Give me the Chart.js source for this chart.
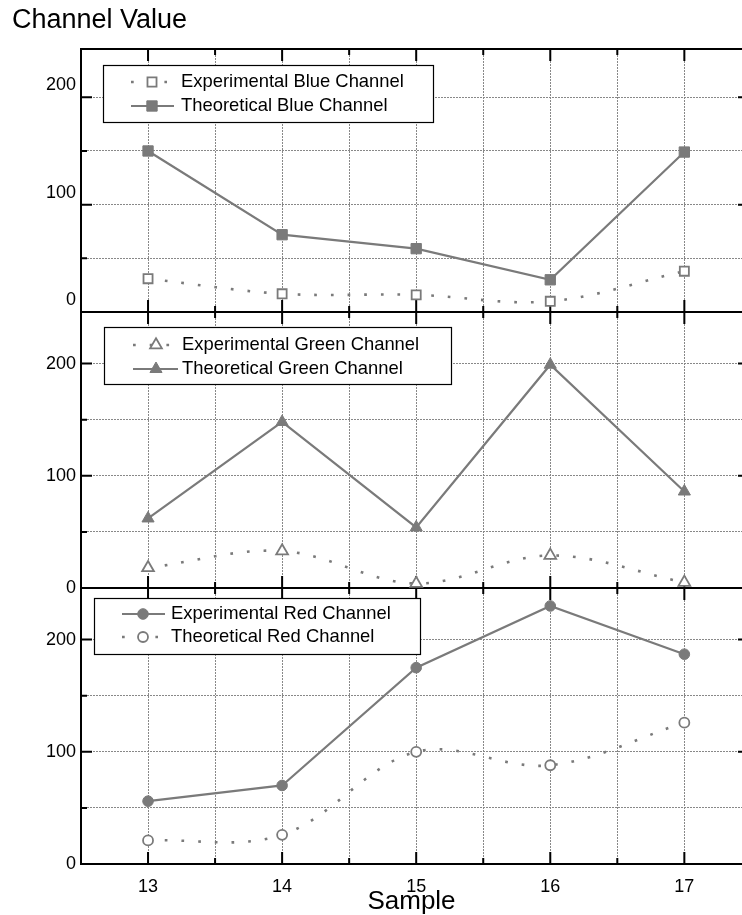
<!DOCTYPE html>
<html>
<head>
<meta charset="utf-8">
<script src="https://cdn.jsdelivr.net/npm/chart.js@4.4.1/dist/chart.umd.min.js"></script>
<style>
  html, body { margin: 0; padding: 0; background: #fff; overflow: hidden; }
  #wrap { position: relative; width: 742px; height: 915px; }
  #wrap canvas { position: absolute; left: 0; top: 0; }
</style>
</head>
<body>
<div id="wrap">
  <canvas id="red" width="742" height="915"></canvas>
  <canvas id="green" width="742" height="915"></canvas>
  <canvas id="blue" width="742" height="915"></canvas>
</div>
<script>
// sample numbers on the x axis
const samples = [13, 14, 15, 16, 17];

// channel values
const blueExperimental = [31, 17, 16, 10, 38];
const blueTheoretical = [150, 72, 59, 30, 149];
const greenExperimental = [18, 33, 4, 29, 5];
const greenTheoretical = [62, 148, 54, 199, 86];
const redExperimental = [56, 70, 175, 230, 187];
const redTheoretical = [21, 26, 100, 88, 126];

// grid / tick positions
const xGridTicks = [12.5, 13, 13.5, 14, 14.5, 15, 15.5, 16, 16.5, 17];
const yGridTicks = [0, 50, 100, 150, 200];

const GRAY = '#7a7a7a';
const GRID = '#888';
const FONT = "'Liberation Sans', Arial, sans-serif";
Chart.defaults.font.family = FONT;

function pts(vals) {
  return samples.map((s, i) => ({ x: s, y: vals[i] }));
}

function solidSet(label, vals, style, r) {
  return {
    label, data: pts(vals), borderColor: GRAY, borderWidth: 2.2, tension: 0,
    pointStyle: style, pointRadius: r, pointHoverRadius: r,
    pointBackgroundColor: GRAY, pointBorderColor: GRAY, pointBorderWidth: 1, clip: false
  };
}

function dottedSet(label, vals, style, r) {
  return {
    label, data: pts(vals), borderColor: GRAY, borderWidth: 2.6, borderDash: [2.7, 14], tension: 0.35,
    pointStyle: style, pointRadius: r, pointHoverRadius: r,
    pointBackgroundColor: '#fff', pointBorderColor: GRAY, pointBorderWidth: 1.8, clip: false
  };
}

// black frame + inward tick marks
const framePlugin = {
  id: 'frame',
  beforeDatasetsDraw(chart) {
    const { ctx, chartArea: a, scales: { x, y } } = chart;
    ctx.save();
    ctx.strokeStyle = '#000';
    ctx.lineWidth = 2;
    ctx.beginPath();
    ctx.moveTo(a.right, a.top); ctx.lineTo(a.left, a.top);
    ctx.lineTo(a.left, a.bottom); ctx.lineTo(a.right, a.bottom);
    ctx.stroke();
    ctx.beginPath();
    x.ticks.forEach(t => {
      const px = x.getPixelForValue(t.value);
      const len = Number.isInteger(t.value) ? 12 : 6;
      ctx.moveTo(px, a.top); ctx.lineTo(px, a.top + len);
      ctx.moveTo(px, a.bottom); ctx.lineTo(px, a.bottom - len);
    });
    y.ticks.forEach(t => {
      const py = y.getPixelForValue(t.value);
      const len = t.value % 100 === 0 ? 11 : 6;
      ctx.moveTo(a.left, py); ctx.lineTo(a.left + len, py);
      ctx.moveTo(a.right + 7, py); ctx.lineTo(a.right + 7 - len, py);
    });
    ctx.stroke();
    ctx.restore();
  }
};

function drawMarker(ctx, ds, x, y) {
  ctx.save();
  ctx.setLineDash([]);
  ctx.fillStyle = ds.pointBackgroundColor;
  ctx.strokeStyle = ds.pointBorderColor;
  ctx.lineWidth = ds.pointBorderWidth;
  Chart.helpers.drawPoint(ctx, {
    pointStyle: ds.pointStyle, radius: ds.pointRadius, rotation: 0, borderWidth: ds.pointBorderWidth
  }, x, y);
  ctx.restore();
}

// boxed legend inside the plot
const boxLegendPlugin = {
  id: 'boxLegend',
  afterDatasetsDraw(chart, args, o) {
    const ctx = chart.ctx;
    ctx.save();
    ctx.fillStyle = '#fff';
    ctx.fillRect(o.left, o.top, o.right - o.left, o.bottom - o.top);
    ctx.strokeStyle = '#000';
    ctx.lineWidth = 1.2;
    ctx.strokeRect(o.left + 0.5, o.top + 0.5, o.right - o.left, o.bottom - o.top);
    chart.data.datasets.forEach((ds, i) => {
      const yy = o.rows[i];
      const dotted = !!ds.borderDash;
      ctx.save();
      ctx.strokeStyle = ds.borderColor;
      ctx.lineWidth = ds.borderWidth;
      ctx.setLineDash(ds.borderDash || []);
      ctx.beginPath();
      ctx.moveTo(o.lineFrom, yy);
      ctx.lineTo(dotted ? o.markerX + 15 : o.markerX + 22, yy);
      ctx.stroke();
      ctx.restore();
      drawMarker(ctx, ds, o.markerX, yy);
      ctx.fillStyle = '#000';
      ctx.font = '18.4px ' + FONT;
      ctx.textBaseline = 'middle';
      ctx.textAlign = 'left';
      ctx.fillText(ds.label, o.textX, yy);
    });
    ctx.restore();
  }
};

function panel(id, datasets, cfg) {
  return new Chart(document.getElementById(id), {
    type: 'line',
    data: { datasets },
    plugins: [framePlugin, boxLegendPlugin],
    options: {
      responsive: false,
      animation: false,
      events: [],
      layout: { autoPadding: false, padding: { left: 12, right: 0, top: cfg.top, bottom: cfg.bottom } },
      plugins: {
        legend: { display: false },
        tooltip: { enabled: false },
        title: cfg.title || { display: false },
        boxLegend: cfg.legend
      },
      scales: {
        x: {
          type: 'linear', min: 12.5, max: 17.43,
          afterBuildTicks: s => { s.ticks = xGridTicks.map(v => ({ value: v })); },
          afterFit: s => { s.height = cfg.xHeight; s.paddingRight = 0; s.paddingLeft = 0; },
          grid: { color: GRID, lineWidth: 1, drawTicks: false },
          border: { display: false, dash: [2, 1] },
          ticks: {
            display: cfg.showX, padding: 12, color: '#000', font: { size: 18 },
            callback: v => Number.isInteger(v) ? String(v) : ''
          },
          title: {
            display: cfg.showX, text: 'Sample', color: '#000',
            font: { size: 26, lineHeight: 1 }, padding: 0
          }
        },
        y: {
          type: 'linear', min: 0, max: cfg.yMax,
          afterBuildTicks: s => { s.ticks = yGridTicks.map(v => ({ value: v })); },
          afterFit: s => { s.width = 69; },
          grid: { color: GRID, lineWidth: 1, drawTicks: false },
          border: { display: false, dash: [2, 1] },
          ticks: {
            padding: 5, color: '#000', font: { size: 18 }, labelOffset: cfg.labelOffset || 0,
            callback: v => v % 100 === 0 ? String(v) : ''
          }
        }
      }
    }
  });
}

panel('blue', [
  dottedSet('Experimental Blue Channel', blueExperimental, 'rect', 6.4),
  solidSet('Theoretical Blue Channel', blueTheoretical, 'rect', 7.3)
], {
  top: 0, bottom: 603, xHeight: 0, showX: false, yMax: 245, labelOffset: -12,
  title: {
    display: true, text: 'Channel Value', align: 'start', color: '#000',
    font: { size: 27, weight: 'normal', lineHeight: 1 }, padding: { top: 7, bottom: 15 }
  },
  legend: { left: 103, top: 65, right: 433, bottom: 122, rows: [82, 106], lineFrom: 131, markerX: 152, textX: 181 }
});

panel('green', [
  dottedSet('Experimental Green Channel', greenExperimental, 'triangle', 6.8),
  solidSet('Theoretical Green Channel', greenTheoretical, 'triangle', 7)
], {
  top: 312, bottom: 327, xHeight: 0, showX: false, yMax: 246,
  legend: { left: 104, top: 327, right: 451, bottom: 384, rows: [345, 369], lineFrom: 133, markerX: 156, textX: 182 }
});

panel('red', [
  solidSet('Experimental Red Channel', redExperimental, 'circle', 5.3),
  dottedSet('Theoretical Red Channel', redTheoretical, 'circle', 5)
], {
  top: 588, bottom: 0, xHeight: 51, showX: true, yMax: 246,
  legend: { left: 94, top: 598, right: 420, bottom: 654, rows: [614, 637], lineFrom: 122, markerX: 143, textX: 171 }
});
</script>
</body>
</html>
